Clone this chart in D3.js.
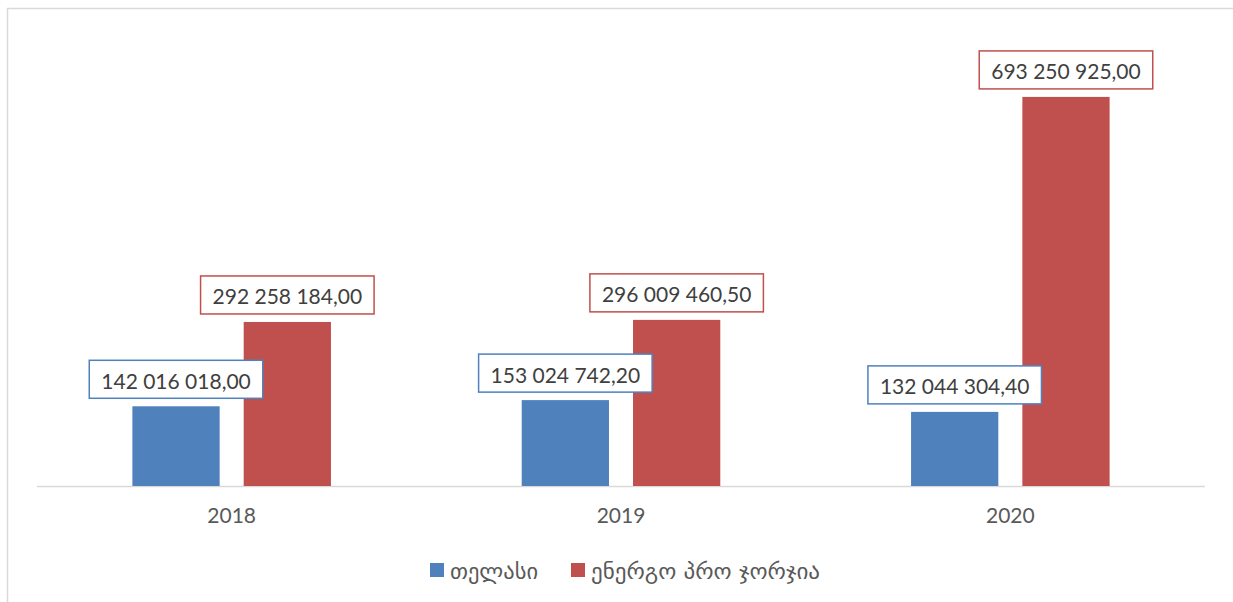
<!DOCTYPE html>
<html>
<head>
<meta charset="utf-8">
<script src="https://cdn.jsdelivr.net/npm/d3@7"></script>
<style>
  body { margin: 0; background: #fff; }
  svg { display: block; font-family: Lato, "DejaVu Sans", sans-serif; }
</style>
</head>
<body>
<svg id="chart" width="1233" height="602"></svg>
<script>
// chart data
const years = ['2018', '2019', '2020'];
const seriesNames = ['თელასი', 'ენერგო პრო ჯორჯია'];
const telasi = [142016018.00, 153024742.20, 132044304.40];
const energoPro = [292258184.00, 296009460.50, 693250925.00];
const seriesColors = ['#4f81bd', '#c0504d'];

const svg = d3.select('#chart');
const W = 1233, H = 602;

// outer chart frame (clipped at right/bottom like the reference)
svg.append('rect')
    .attr('x', 7.5).attr('y', 8.5)
    .attr('width', W + 10).attr('height', H + 10)
    .attr('fill', 'none')
    .attr('stroke', '#d9d9d9')
    .attr('stroke-width', 1.5);

const plotLeft = 37, plotRight = 1205, baseY = 486;

let x0 = d3.scaleBand()
             .domain(years)
             .range([ plotLeft, plotRight ])
             .paddingInner(0.49)
             .paddingOuter(0.245);

let x1 = d3.scaleBand()
             .domain(seriesNames)
             .range([ 0, x0.bandwidth() ])
             .paddingInner(0.216);

let y = d3.scaleLinear().domain([ 0, 800000000 ]).range([ baseY, 37 ]);

// flatten into one list of bars
let bars = [];
years.forEach((yr, i) => {
  bars.push({year : yr, series : seriesNames[0], idx : 0, value : telasi[i]});
  bars.push({year : yr, series : seriesNames[1], idx : 1, value : energoPro[i]});
});

let locale = d3.formatLocale({decimal : ',', thousands : ' ', grouping : [ 3 ]});
let fmt = locale.format(',.2f');
let barX = d => x0(d.year) + x1(d.series);

// baseline
svg.append('line')
    .attr('x1', plotLeft).attr('x2', plotRight)
    .attr('y1', baseY + 0.5).attr('y2', baseY + 0.5)
    .attr('stroke', '#d9d9d9')
    .attr('stroke-width', 1.5);

let barLayer = svg.append('g');
let labelLayer = svg.append('g');

barLayer.selectAll('rect')
    .data(bars)
    .join('rect')
    .attr('x', barX)
    .attr('y', d => y(d.value))
    .attr('width', x1.bandwidth())
    .attr('height', d => baseY - y(d.value))
    .attr('fill', d => seriesColors[d.idx]);

// data label boxes, on top of every bar
let labels = labelLayer.selectAll('g')
                 .data(bars)
                 .join('g');

labels.each(function(d) {
  let g = d3.select(this);
  let cx = barX(d) + x1.bandwidth() / 2;
  let boxBottom = y(d.value) - 8;
  let boxH = 38;
  let box = g.append('rect')
                .attr('fill', '#fff')
                .attr('stroke', seriesColors[d.idx])
                .attr('stroke-width', 1.5);
  let txt = g.append('text')
                .attr('x', cx)
                .attr('y', boxBottom - boxH / 2 + 1)
                .attr('text-anchor', 'middle')
                .attr('dominant-baseline', 'central')
                .attr('font-size', 21)
                .attr('fill', '#404040')
                .text(fmt(d.value));
  let w = txt.node().getComputedTextLength() + 24;
  box.attr('x', cx - w / 2)
      .attr('y', boxBottom - boxH)
      .attr('width', w)
      .attr('height', boxH);
});

// category labels
svg.selectAll('text.cat')
    .data(years)
    .join('text')
    .attr('class', 'cat')
    .attr('x', d => x0(d) + x0.bandwidth() / 2)
    .attr('y', 523)
    .attr('text-anchor', 'middle')
    .attr('font-size', 21)
    .attr('fill', '#595959')
    .text(d => d);

// legend
let legendX = [ 430, 571 ];
let legend = svg.selectAll('g.legend')
                 .data(seriesNames)
                 .join('g')
                 .attr('class', 'legend')
                 .attr('transform', (d, i) => `translate(${legendX[i]},563)`);

legend.append('rect')
    .attr('width', 14).attr('height', 14)
    .attr('fill', (d, i) => seriesColors[i]);

legend.append('text')
    .attr('x', 20)
    .attr('y', 8)
    .attr('dominant-baseline', 'central')
    .attr('font-family', '"DejaVu Sans", sans-serif')
    .attr('font-size', 22)
    .attr('fill', '#595959')
    .attr('textLength', (d, i) => i === 0 ? 88 : 229)
    .attr('lengthAdjust', 'spacingAndGlyphs')
    .text(d => d);
</script>
</body>
</html>
